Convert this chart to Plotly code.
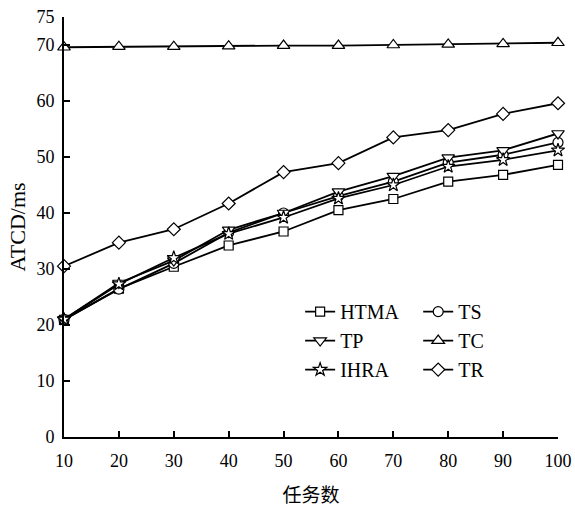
import plotly.graph_objects as go

tasks = [10, 20, 30, 40, 50, 60, 70, 80, 90, 100]
htma = [20.9, 26.5, 30.4, 34.2, 36.7, 40.5, 42.5, 45.6, 46.8, 48.6]
ts = [21.0, 26.4, 31.0, 36.5, 40.0, 43.0, 45.6, 49.0, 50.4, 52.6]
tp = [21.0, 27.5, 31.5, 37.0, 40.0, 43.8, 46.6, 49.9, 51.2, 54.2]
tc = [69.6, 69.7, 69.7, 69.8, 69.9, 69.9, 70.0, 70.1, 70.2, 70.4]
ihra = [21.0, 27.3, 32.0, 36.3, 39.2, 42.6, 45.0, 48.3, 49.5, 51.2]
tr = [30.5, 34.7, 37.1, 41.7, 47.3, 48.9, 53.5, 54.8, 57.7, 59.6]

y_ticks = [0, 10, 20, 30, 40, 50, 60, 70, 75]
x_ticks = tasks

series = [
    ("HTMA", htma, "square", 9, "legend"),
    ("TS", ts, "circle", 10, "legend2"),
    ("TP", tp, "triangle-down", 11, "legend"),
    ("TC", tc, "triangle-up", 11, "legend2"),
    ("IHRA", ihra, "star", 10, "legend"),
    ("TR", tr, "diamond", 10, "legend2"),
]

fig = go.Figure()
for name, vals, sym, size, lg in series:
    fig.add_trace(go.Scatter(
        x=tasks, y=vals, name=name, mode="lines+markers",
        line=dict(color="black", width=1.8),
        marker=dict(symbol=sym, size=size, color="white",
                    line=dict(color="black", width=1.2)),
        cliponaxis=False, legend=lg,
    ))

font = "Liberation Serif, Times New Roman, serif"
leg_common = dict(yanchor="top", xanchor="left", bgcolor="rgba(0,0,0,0)",
                  font=dict(family=font, size=20, color="black"),
                  tracegroupgap=0, itemwidth=30)
fig.update_layout(
    width=575, height=507,
    margin=dict(l=64, r=17, t=17, b=70, autoexpand=False),
    paper_bgcolor="white", plot_bgcolor="white",
    font=dict(family=font, size=18, color="black"),
    showlegend=True,
    legend=dict(x=0.478, y=0.345, **leg_common),
    legend2=dict(x=0.717, y=0.345, **leg_common),
    xaxis=dict(range=[10, 100], tickvals=x_ticks, ticks="inside", ticklen=6,
               tickwidth=2, tickcolor="black", showline=True, linecolor="black",
               linewidth=2, showgrid=False, zeroline=False, automargin=False,
               ticklabelstandoff=6,
               title=dict(text="任务数",
                          font=dict(family="Noto Sans CJK SC", size=19, color="black"),
                          standoff=20)),
    yaxis=dict(range=[0, 75], tickvals=y_ticks, ticks="inside", ticklen=6,
               tickwidth=2, tickcolor="black", showline=True, linecolor="black",
               linewidth=2, showgrid=False, zeroline=False, automargin=False,
               ticklabelstandoff=4,
               title=dict(text="ATCD/ms", font=dict(family=font, size=22, color="black"),
                          standoff=5)),
)
fig.write_html("out.html")
